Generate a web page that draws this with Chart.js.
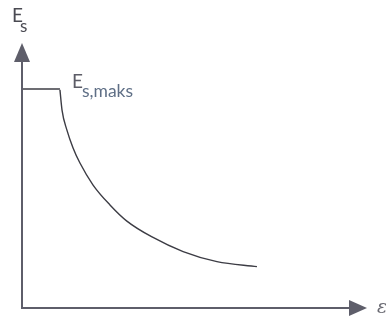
<!DOCTYPE html>
<html>
<head>
<meta charset="utf-8">
<script src="https://cdn.jsdelivr.net/npm/chart.js@4/dist/chart.umd.min.js"></script>
<style>
  html, body { margin: 0; padding: 0; background: #fff; }
  canvas { display: block; }
</style>
</head>
<body>
<canvas id="chart" width="386" height="320"></canvas>
<script>
// modulus plateau (E_s,maks) and the decaying branch, in axis units 0..100
const plateauStrain = [0, 11.0];
const plateauModulus = [82.6, 82.6];
const curveStrain = [11.0, 11.6, 13.0, 14.8, 16.8, 20.6, 25.5, 30.4, 37.7, 46.7, 56.5, 68.1];
const curveModulus = [82.3, 74.7, 67.2, 60.4, 54.7, 46.4, 38.9, 32.8, 26.8, 21.3, 17.5, 15.6];

const yAxisLabel = ["E", "s"];
const xAxisLabel = "ε";
const peakLabel = ["E", "s,maks"];

const toPoints = (xs, ys) => xs.map((x, i) => ({ x, y: ys[i] }));

const axesArrows = {
	id: "axesArrows",
	afterDraw(chart) {
		const { ctx, chartArea } = chart;
		const x0 = chartArea.left, y0 = chartArea.bottom;
		const xEnd = chartArea.right, yEnd = chartArea.top;

		ctx.save();
		ctx.strokeStyle = "#5e5e6a";
		ctx.fillStyle = "#5e5e6a";
		ctx.lineWidth = 2;
		ctx.beginPath();
		ctx.moveTo(x0, yEnd + 18);
		ctx.lineTo(x0, y0);
		ctx.lineTo(xEnd - 18, y0);
		ctx.stroke();

		// arrow heads
		ctx.beginPath();
		ctx.moveTo(x0, yEnd);
		ctx.lineTo(x0 - 8, yEnd + 19);
		ctx.lineTo(x0 + 8, yEnd + 19);
		ctx.closePath();
		ctx.fill();
		ctx.beginPath();
		ctx.moveTo(xEnd, y0);
		ctx.lineTo(xEnd - 18, y0 - 8);
		ctx.lineTo(xEnd - 18, y0 + 8);
		ctx.closePath();
		ctx.fill();

		// axis labels
		ctx.textBaseline = "alphabetic";
		ctx.fillStyle = "#4a4a52";
		ctx.font = "19px Lato";
		ctx.fillText(yAxisLabel[0], 12, 22);
		ctx.font = "17px Lato";
		ctx.fillText(yAxisLabel[1], 20, 32);
		ctx.font = "italic 19px 'DejaVu Serif'";
		ctx.fillStyle = "#6a6a72";
		ctx.fillText(xAxisLabel, 377, 313);

		// peak label
		const px = chart.scales.x.getPixelForValue(plateauStrain[1]);
		const py = chart.scales.y.getPixelForValue(plateauModulus[1]);
		ctx.fillStyle = "#5c5c66";
		ctx.font = "19px Lato";
		ctx.fillText(peakLabel[0], px + 12, py - 1);
		ctx.fillStyle = "#5f6f86";
		ctx.font = "17.5px Lato";
		ctx.fillText(peakLabel[1], px + 22, py + 8);
		ctx.restore();
	}
};

new Chart(document.getElementById("chart"), {
	type: "scatter",
	data: {
		datasets: [
			{
				data: toPoints(plateauStrain, plateauModulus),
				showLine: true,
				borderColor: "#3c3c44",
				borderWidth: 1.5,
				pointRadius: 0
			},
			{
				data: toPoints(curveStrain, curveModulus),
				showLine: true,
				cubicInterpolationMode: "monotone",
				borderColor: "#3c3c44",
				borderWidth: 1.4,
				pointRadius: 0
			}
		]
	},
	options: {
		responsive: false,
		animation: false,
		layout: { padding: { left: 22, right: 19, top: 43, bottom: 12 } },
		plugins: { legend: { display: false }, tooltip: { enabled: false } },
		scales: {
			x: { type: "linear", min: 0, max: 100, display: false },
			y: { type: "linear", min: 0, max: 100, display: false }
		}
	},
	plugins: [axesArrows]
});
</script>
</body>
</html>
